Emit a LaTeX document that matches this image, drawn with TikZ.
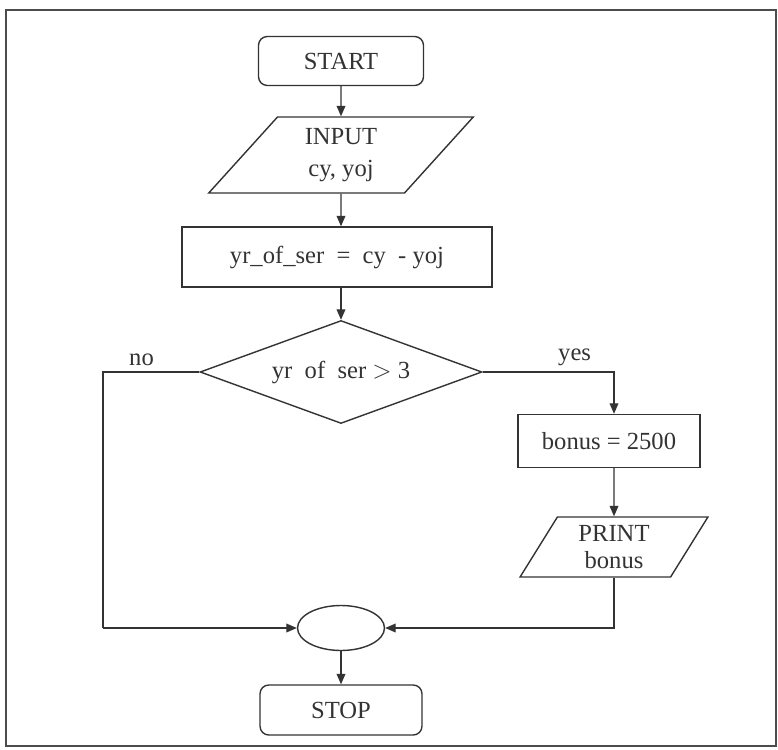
\documentclass[tikz,border=0pt]{standalone}
\usepackage{fontspec}
\setmainfont{Liberation Serif}
\usetikzlibrary{positioning, shapes.geometric, arrows.meta}

\begin{document}
\begin{tikzpicture}[
    x=0.02cm, y=-0.02cm,
    line width=0.8pt, draw=black!80,
    every node/.style={font=\fontsize{14}{21}\selectfont, text=black!80},
    terminal/.style={
        rectangle, rounded corners=5pt, draw,
        minimum width=3.3cm, minimum height=0.98cm
    },
    process/.style={rectangle, draw, inner sep=2pt},
    io/.style={
        trapezium, draw, trapezium stretches=true,
        align=center, inner sep=1pt
    },
    decision/.style={
        diamond, draw, aspect=2.7, inner sep=0pt,
        minimum width=5.64cm, minimum height=2.06cm
    },
    connector/.style={ellipse, draw, minimum width=1.74cm, minimum height=0.9cm},
    flow/.style={-{Triangle[length=6pt, width=5pt]}}
]

% --- Marco ---
\useasboundingbox (0,0) rectangle (778,750);
\draw[line width=1.2pt, black!70] (6,10) rectangle (776,746);

% --- START ---
\node[terminal] (start) at (341,61) {START};

% --- INPUT ---
\node[io, trapezium left angle=54, trapezium right angle=126,
      minimum width=5.3cm, minimum height=1.52cm] (input) at (341,155)
    {INPUT\\[-3pt]cy, yoj};

% --- Cálculo ---
\node[process, minimum width=6.2cm, minimum height=1.2cm] (calc) at (337,257)
    {yr\_of\_ser\ \ =\ \ cy\ \ - yoj};

% --- Decisión ---
\node[decision] (check) at (341,372) {yr\ \ of\ \ ser $>$ 3};

% --- bonus ---
\node[process, minimum width=3.64cm, minimum height=1.06cm] (bonus) at (609,441)
    {bonus = 2500};

% --- PRINT ---
\node[io, trapezium left angle=62, trapezium right angle=118,
      minimum width=3.76cm, minimum height=1.2cm] (print) at (614,547)
    {PRINT\\[-6pt]bonus};

% --- Conector ---
\node[connector] (join) at (341,628) {};
\coordinate (nocorner) at (103,628);

% --- STOP ---
\node[terminal, minimum width=3.24cm, minimum height=1.0cm] (stop) at (341,710) {STOP};

% --- Flechas ---
\draw[flow] (start) -- (input);
\draw[flow] (input) -- (input |- calc.north);
\draw[flow] (calc.south -| check) -- (check);
\draw[flow] (check.east) -| (bonus.north -| print)
    node[pos=0.35, above] {yes};
\draw (check.west) -| (nocorner)
    node[pos=0.3, above] {no};
\draw[flow] (nocorner) -- (join.west);
\draw[flow] (bonus.south -| print) -- (print);
\draw[flow] (print.south) |- (join.east);
\draw[flow] (join) -- (stop);

\end{tikzpicture}
\end{document}
